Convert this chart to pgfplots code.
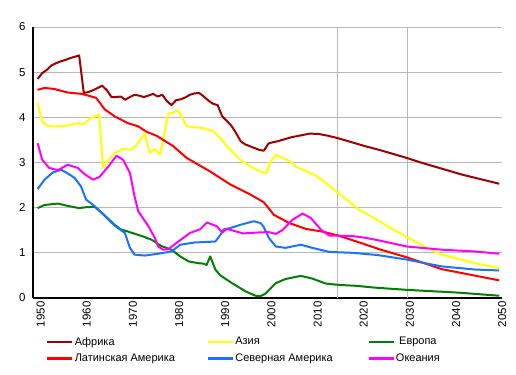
\documentclass[border=0pt]{standalone}
\usepackage{fontspec}
\setmainfont{Liberation Sans}
\usepackage{pgfplots}
\pgfplotsset{compat=1.18}
\definecolor{cAfr}{RGB}{160,0,0}
\definecolor{cAsia}{RGB}{255,255,0}
\definecolor{cEur}{RGB}{0,128,0}
\definecolor{cLat}{RGB}{255,0,0}
\definecolor{cNam}{RGB}{25,115,255}
\definecolor{cOce}{RGB}{255,0,255}
\begin{document}
\begin{tikzpicture}
\path[use as bounding box] (-33bp,-77bp) rectangle (483bp,298bp);
\begin{axis}[
  scale only axis, width=469bp, height=271bp,
  xmin=1949, xmax=2050.6, ymin=0, ymax=6,
  axis x line*=bottom, axis y line*=left,
  axis line style={black, line width=1.2bp},
  xtick={1950,1960,...,2050}, ytick={0,1,...,6},
  major tick length=0pt,
  ymajorgrids, grid style={draw=black!28, line width=0.8bp},
  extra x ticks={2015,2030}, extra x tick labels={},
  extra x tick style={xmajorgrids=true},
  /pgf/number format/1000 sep={},
  /pgf/number format/assume math mode=true,
  tick label style={font=\fontsize{11.5}{13}\selectfont},
  x tick label style={rotate=90, anchor=east, yshift=-3bp},
  y tick label style={xshift=-4bp},
  legend columns=3,
  legend style={draw=none, fill=none, at={(axis description cs:0,0)}, anchor=north west,
    xshift=13bp, yshift=-38bp, inner sep=0pt, row sep=5bp,
    font=\fontsize{11}{13}\selectfont, nodes={inner sep=1bp}},
  legend image code/.code={\draw[#1, line width=2.6bp] (0bp,0bp) -- (25bp,0bp);},
  every axis plot/.append style={line width=2bp, line join=round},
]
\node[font=\fontsize{11.5}{13}\selectfont] at (rel axis cs:0,1) [xshift=34bp, yshift=7bp] {\%};
\addplot[cAfr] coordinates {(1950,4.85)(1951,4.98)(1952,5.05)(1953,5.15)(1954,5.20)(1955,5.24)(1956,5.27)(1957,5.31)(1958,5.34)(1959,5.37)(1960,4.54)(1961,4.56)(1962,4.60)(1963,4.65)(1964,4.70)(1965,4.60)(1966,4.45)(1967,4.45)(1968,4.46)(1969,4.39)(1970,4.45)(1971,4.50)(1972,4.48)(1973,4.45)(1974,4.48)(1975,4.52)(1976,4.46)(1977,4.50)(1978,4.36)(1979,4.27)(1980,4.38)(1981,4.40)(1982,4.44)(1983,4.50)(1984,4.53)(1985,4.54)(1986,4.46)(1987,4.37)(1988,4.30)(1989,4.27)(1990,4.02)(1991,3.92)(1992,3.81)(1993,3.65)(1994,3.47)(1995,3.40)(1996,3.36)(1997,3.32)(1998,3.28)(1999,3.26)(2000,3.42)(2001,3.45)(2002,3.47)(2004,3.53)(2005,3.56)(2007,3.60)(2009,3.64)(2011,3.63)(2013,3.59)(2015,3.54)(2018,3.45)(2021,3.36)(2024,3.28)(2027,3.19)(2030,3.10)(2033,3.00)(2036,2.91)(2039,2.82)(2042,2.73)(2046,2.63)(2050,2.53)};
\addlegendentry{\makebox[131bp][l]{Африка}}
\addplot[cAsia] coordinates {(1950,4.32)(1951,3.90)(1952,3.82)(1953,3.80)(1955,3.80)(1957,3.83)(1958.5,3.87)(1960,3.85)(1961.3,3.97)(1963.3,4.06)(1964.2,2.88)(1965,3.02)(1966.7,3.21)(1968.5,3.30)(1970.3,3.28)(1971.5,3.40)(1973.2,3.64)(1974.3,3.21)(1975.4,3.30)(1976.5,3.17)(1978.3,4.07)(1980.5,4.15)(1982.3,3.80)(1984,3.78)(1985.9,3.76)(1988,3.69)(1989.5,3.55)(1991,3.36)(1993.9,3.06)(1996,2.92)(1997.6,2.83)(1999.5,2.76)(2000.5,3.02)(2001.6,3.17)(2004.8,3.02)(2006,2.90)(2008,2.82)(2010.6,2.69)(2013,2.50)(2015.2,2.32)(2017.5,2.13)(2019.7,1.95)(2023.7,1.72)(2027,1.52)(2030,1.35)(2034,1.13)(2037.5,0.96)(2041,0.87)(2044.8,0.77)(2050,0.66)};
\addlegendentry{\makebox[131bp][l]{Азия}}
\addplot[cEur] coordinates {(1950,1.99)(1951.5,2.06)(1954.4,2.09)(1956.5,2.04)(1959,1.99)(1960.5,2.01)(1962.4,2.02)(1964.5,1.83)(1966.7,1.62)(1968,1.52)(1969.6,1.47)(1972.9,1.36)(1974.7,1.29)(1976.8,1.15)(1979,1.07)(1980.9,0.92)(1982.7,0.81)(1984.9,0.77)(1986,0.76)(1986.6,0.73)(1987.4,0.92)(1988.5,0.63)(1989.6,0.50)(1992.1,0.33)(1995,0.15)(1997.2,0.05)(1998.3,0.04)(1999.4,0.10)(2001.6,0.33)(2003.7,0.42)(2007,0.49)(2009.5,0.43)(2012.4,0.32)(2015.2,0.29)(2019,0.27)(2023,0.23)(2030,0.18)(2041,0.12)(2050,0.05)};
\addlegendentry{Европа}
\addplot[cLat] coordinates {(1950,4.61)(1951.5,4.65)(1953.5,4.63)(1956.5,4.55)(1959.5,4.52)(1961,4.48)(1962.7,4.43)(1964.5,4.18)(1966.7,4.02)(1969.6,3.87)(1971.8,3.80)(1973.6,3.68)(1975.8,3.59)(1979.4,3.36)(1982.3,3.10)(1987.4,2.80)(1991.8,2.51)(1996.1,2.29)(1999,2.12)(2001.2,1.84)(2004.5,1.66)(2008.1,1.53)(2011.7,1.47)(2015.2,1.38)(2019.7,1.23)(2024,1.08)(2030,0.90)(2037.5,0.64)(2050,0.39)};
\addlegendentry{\makebox[131bp][l]{Латинская Америка}}
\addplot[cNam] coordinates {(1950,2.41)(1951.5,2.62)(1953.3,2.78)(1955.1,2.84)(1956.5,2.76)(1958,2.66)(1959.4,2.47)(1960.5,2.18)(1962.4,2.03)(1964.5,1.82)(1966.7,1.60)(1968.9,1.44)(1970,1.11)(1971,0.96)(1973.2,0.94)(1976.1,0.98)(1979,1.03)(1980.9,1.18)(1984.1,1.23)(1988.5,1.25)(1989.6,1.40)(1990.3,1.52)(1991.8,1.55)(1993.9,1.62)(1996.8,1.70)(1998.3,1.66)(1999,1.57)(2000.1,1.33)(2001.6,1.14)(2003.7,1.11)(2007,1.18)(2009.5,1.11)(2013.2,1.02)(2018.3,1.00)(2023.7,0.95)(2030,0.85)(2037.5,0.70)(2044.8,0.63)(2050,0.61)};
\addlegendentry{\makebox[131bp][l]{Северная Америка}}
\addplot[cOce] coordinates {(1950,3.43)(1951,3.06)(1952.5,2.88)(1954.4,2.83)(1956.5,2.95)(1958.7,2.88)(1960.1,2.75)(1962,2.62)(1963.4,2.68)(1965.3,2.91)(1967.1,3.15)(1968.5,3.06)(1970,2.77)(1971,2.25)(1971.8,1.92)(1974,1.59)(1975.4,1.33)(1976.1,1.14)(1977.2,1.07)(1978.3,1.08)(1980.5,1.25)(1983,1.44)(1985.2,1.52)(1986.7,1.67)(1988.8,1.59)(1990,1.45)(1991,1.53)(1994.5,1.43)(1997.8,1.45)(2000,1.46)(2001.6,1.42)(2003,1.50)(2005.2,1.73)(2007.4,1.87)(2009.2,1.77)(2011.4,1.51)(2013.2,1.38)(2015.2,1.38)(2018.3,1.37)(2021.2,1.33)(2023.7,1.28)(2030,1.14)(2037.5,1.07)(2044.8,1.03)(2050,0.98)};
\addlegendentry{Океания}
\end{axis}
\end{tikzpicture}
\end{document}
